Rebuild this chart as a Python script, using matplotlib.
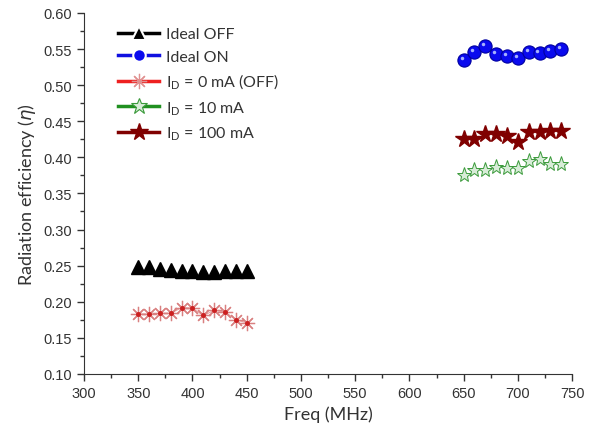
import numpy as np
import matplotlib
matplotlib.use("Agg")
import matplotlib.pyplot as plt
from matplotlib.lines import Line2D
from matplotlib.ticker import MultipleLocator
from matplotlib.transforms import offset_copy

plt.rcParams['font.family'] = ['Liberation Sans', 'DejaVu Sans']
plt.rcParams['mathtext.fontset'] = 'dejavusans'

# frequencies (MHz)
freq_off = [350, 360, 370, 380, 390, 400, 410, 420, 430, 440, 450]
freq_on = [650, 660, 670, 680, 690, 700, 710, 720, 730, 740]

# radiation efficiency
ideal_off = [0.248, 0.248, 0.245, 0.244, 0.243, 0.242, 0.241, 0.241, 0.242, 0.243, 0.243]
ideal_on = [0.535, 0.546, 0.554, 0.543, 0.540, 0.538, 0.546, 0.545, 0.547, 0.550]
id_0ma = [0.183, 0.183, 0.184, 0.184, 0.192, 0.191, 0.181, 0.188, 0.186, 0.175, 0.171]
id_10ma = [0.375, 0.383, 0.383, 0.387, 0.385, 0.385, 0.395, 0.398, 0.391, 0.391]
id_100ma = [0.426, 0.426, 0.432, 0.432, 0.430, 0.421, 0.435, 0.435, 0.436, 0.437]

labels = ['Ideal OFF', 'Ideal ON',
          r'I$_\mathregular{D}$ = 0 mA (OFF)',
          r'I$_\mathregular{D}$ = 10 mA',
          r'I$_\mathregular{D}$ = 100 mA']

fig = plt.figure(figsize=(5.93, 4.35), dpi=100)
ax = fig.add_axes([0.1417, 0.138, 0.823, 0.830])

ax.plot(freq_off, ideal_off, ls='none', marker='^', ms=10, color='black')
ax.plot(freq_on, ideal_on, ls='none', marker='o', ms=9.5, mfc='#0a0aee', mec='#0000a0', mew=0.8)
# small highlight on the spheres
hl = offset_copy(ax.transData, fig=fig, x=-1.5, y=1.5, units='points')
ax.plot(freq_on, ideal_on, ls='none', marker='o', ms=2.5, mfc='#b8c4ff', mec='none',
        alpha=0.9, transform=hl)
ax.plot(freq_off, id_0ma, ls='-', lw=0.8, color='#e8a0a0', marker=(8, 2, 0), ms=11,
        mec='#d98080', mew=0.9)
ax.plot(freq_off, id_0ma, ls='none', marker='o', ms=2.5, color='#cc2020')
ax.plot(freq_on, id_10ma, ls='none', marker='*', ms=11, mfc='#d8ecd8', mec='#3a9a3a', mew=0.7)
ax.plot(freq_on, id_100ma, ls='none', marker='*', ms=13, color='#800000')

ax.set_xlim(300, 750)
ax.set_ylim(0.10, 0.60)
ax.xaxis.set_major_locator(MultipleLocator(50))
ax.xaxis.set_minor_locator(MultipleLocator(25))
ax.yaxis.set_major_locator(MultipleLocator(0.05))
ax.yaxis.set_minor_locator(MultipleLocator(0.025))
ax.yaxis.set_major_formatter(matplotlib.ticker.FormatStrFormatter('%.2f'))
ax.tick_params(which='major', direction='out', length=5, width=1, labelsize=10.5, colors='#333333')
ax.tick_params(which='minor', direction='out', length=3, width=1, colors='#333333')
ax.spines['top'].set_visible(False)
ax.spines['right'].set_visible(False)
for s in ['left', 'bottom']:
    ax.spines[s].set_color('#333333')

ax.set_xlabel('Freq (MHz)', fontsize=13, family=['Lato', 'DejaVu Sans'], color='#333333')
ax.set_ylabel(r'Radiation efficiency ($\eta$)', fontsize=13, family=['Lato', 'DejaVu Sans'],
              color='#333333')

handles = [
    Line2D([], [], color='black', lw=2.5, marker='^', ms=10, mfc='black', mec='white', mew=1.5),
    Line2D([], [], color='#1010e0', lw=2.5, marker='o', ms=9, mfc='#0a0aee', mec='white', mew=1.5),
    Line2D([], [], color='#ee2020', lw=2.5, marker=(8, 2, 0), ms=11, mec='#e09090', mew=0.9),
    Line2D([], [], color='#209020', lw=2.5, marker='*', ms=12, mfc='#d8ecd8', mec='#3a9a3a', mew=0.8),
    Line2D([], [], color='#800000', lw=2.5, marker='*', ms=13, mfc='#800000', mec='#800000'),
]
leg = ax.legend(handles, labels, loc='upper left', bbox_to_anchor=(0.04, 1.0), frameon=False,
                handlelength=2.6, labelspacing=0.5, handletextpad=0.4,
                prop={'family': ['Lato', 'DejaVu Sans'], 'size': 11.5})
for t in leg.get_texts():
    t.set_color('#333333')

fig.savefig('out.png', dpi=100)
